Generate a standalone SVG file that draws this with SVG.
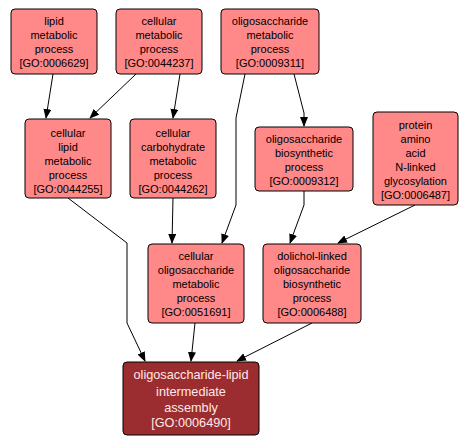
<svg xmlns="http://www.w3.org/2000/svg" width="470" height="446" viewBox="0 0 470 446">
<style>
.n rect{fill:#ff8888;stroke:#000;stroke-width:1}
.n text{font-family:"Liberation Sans",Arial,sans-serif;font-size:11px;fill:#000;text-anchor:middle}
.d rect{fill:#9b2d30;stroke:#000;stroke-width:1}
.d text{font-family:"Liberation Sans",Arial,sans-serif;font-size:12.7px;fill:#ffe8e8;text-anchor:middle}
.e{fill:none;stroke:#000;stroke-width:1;marker-end:url(#a)}
</style>
<defs>
<marker id="a" markerWidth="10" markerHeight="8" refX="9" refY="4" orient="auto" markerUnits="userSpaceOnUse">
<path d="M0,0 L10,4 L0,8 Z" fill="#000"/>
</marker>
</defs>
<rect width="470" height="446" fill="#fff"/>
<g id="edges">
<path class="e" d="M53,74 L46,118"/>
<path class="e" d="M136,74 L90,118"/>
<path class="e" d="M180,74 L173,118"/>
<path class="e" d="M245,74 L236,118 L236,205 L222,243"/>
<path class="e" d="M294,74 L304,113 L304,126"/>
<path class="e" d="M68,198 L127,243 L127,323 L145,361"/>
<path class="e" d="M173,198 L172,243"/>
<path class="e" d="M304,191 L304,205 L290,243"/>
<path class="e" d="M415,205 L338,243"/>
<path class="e" d="M195,323 L191,361"/>
<path class="e" d="M312,323 L237,361"/>
</g>
<g id="GO0006629" class="n">
<rect x="11" y="9" width="86" height="65" rx="4"/>
<text x="54" y="25">lipid</text>
<text x="54" y="39">metabolic</text>
<text x="54" y="53">process</text>
<text x="54" y="67">[GO:0006629]</text>
</g>
<g id="GO0044237" class="n">
<rect x="116" y="9" width="86" height="65" rx="4"/>
<text x="159" y="25">cellular</text>
<text x="159" y="39">metabolic</text>
<text x="159" y="53">process</text>
<text x="159" y="67">[GO:0044237]</text>
</g>
<g id="GO0009311" class="n">
<rect x="221" y="9" width="98" height="65" rx="4"/>
<text x="270" y="25">oligosaccharide</text>
<text x="270" y="39">metabolic</text>
<text x="270" y="53">process</text>
<text x="270" y="67">[GO:0009311]</text>
</g>
<g id="GO0044255" class="n">
<rect x="25" y="119" width="86" height="79" rx="4"/>
<text x="68" y="137">cellular</text>
<text x="68" y="151">lipid</text>
<text x="68" y="165">metabolic</text>
<text x="68" y="179">process</text>
<text x="68" y="193">[GO:0044255]</text>
</g>
<g id="GO0044262" class="n">
<rect x="130" y="119" width="86" height="79" rx="4"/>
<text x="173" y="137">cellular</text>
<text x="173" y="151">carbohydrate</text>
<text x="173" y="165">metabolic</text>
<text x="173" y="179">process</text>
<text x="173" y="193">[GO:0044262]</text>
</g>
<g id="GO0009312" class="n">
<rect x="255" y="127" width="98" height="64" rx="4"/>
<text x="304" y="143">oligosaccharide</text>
<text x="304" y="157">biosynthetic</text>
<text x="304" y="171">process</text>
<text x="304" y="185">[GO:0009312]</text>
</g>
<g id="GO0006487" class="n">
<rect x="373" y="112" width="85" height="93" rx="4"/>
<text x="415.5" y="129">protein</text>
<text x="415.5" y="143">amino</text>
<text x="415.5" y="157">acid</text>
<text x="415.5" y="171">N-linked</text>
<text x="415.5" y="185">glycosylation</text>
<text x="415.5" y="199">[GO:0006487]</text>
</g>
<g id="GO0051691" class="n">
<rect x="148" y="244" width="96" height="79" rx="4"/>
<text x="196" y="260">cellular</text>
<text x="196" y="274">oligosaccharide</text>
<text x="196" y="288">metabolic</text>
<text x="196" y="302">process</text>
<text x="196" y="316">[GO:0051691]</text>
</g>
<g id="GO0006488" class="n">
<rect x="263" y="244" width="98" height="79" rx="4"/>
<text x="312" y="260">dolichol-linked</text>
<text x="312" y="274">oligosaccharide</text>
<text x="312" y="288">biosynthetic</text>
<text x="312" y="302">process</text>
<text x="312" y="316">[GO:0006488]</text>
</g>
<g id="GO0006490" class="d">
<rect x="123" y="362" width="136" height="73" rx="4"/>
<text x="191" y="379">oligosaccharide-lipid</text>
<text x="191" y="396">intermediate</text>
<text x="191" y="412">assembly</text>
<text x="191" y="427">[GO:0006490]</text>
</g>
</svg>
